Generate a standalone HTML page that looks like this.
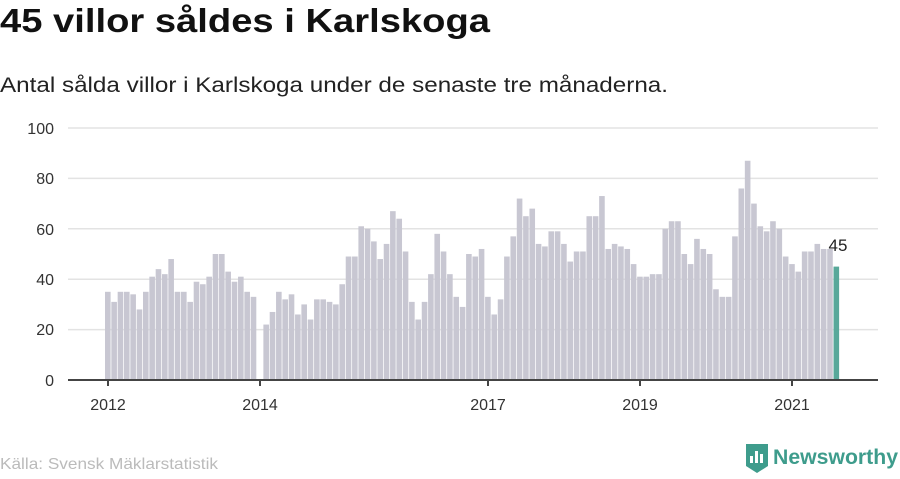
<!DOCTYPE html>
<html><head><meta charset="utf-8"><style>
body{margin:0;background:#fff;width:900px;height:474px;overflow:hidden;font-family:"Liberation Sans",sans-serif}
</style></head><body>
<svg id="s" width="900" height="474" xmlns="http://www.w3.org/2000/svg" font-family="Liberation Sans, sans-serif">
<text x="0" y="32" font-size="33" font-weight="bold" fill="#111" textLength="490" lengthAdjust="spacingAndGlyphs">45 villor såldes i Karlskoga</text>
<text x="0" y="92" font-size="21" fill="#222" textLength="668" lengthAdjust="spacingAndGlyphs">Antal sålda villor i Karlskoga under de senaste tre månaderna.</text>
<g font-size="16" fill="#333" text-anchor="end">
<text x="54" y="134">100</text><text x="54" y="184">80</text><text x="54" y="235">60</text><text x="54" y="285">40</text><text x="54" y="335">20</text><text x="54" y="386">0</text>
</g>
<g stroke="#e3e3e3" stroke-width="1.5">
<line x1="68" x2="878" y1="128" y2="128"/><line x1="68" x2="878" y1="178.4" y2="178.4"/><line x1="68" x2="878" y1="228.8" y2="228.8"/><line x1="68" x2="878" y1="279.2" y2="279.2"/><line x1="68" x2="878" y1="329.6" y2="329.6"/>
</g>
<g id="bars"></g>
<line x1="68" x2="878" y1="380" y2="380" stroke="#444" stroke-width="2"/>
<g stroke="#444" stroke-width="2">
<line x1="108" x2="108" y1="380" y2="386"/><line x1="260" x2="260" y1="380" y2="386"/><line x1="488" x2="488" y1="380" y2="386"/><line x1="640" x2="640" y1="380" y2="386"/><line x1="792" x2="792" y1="380" y2="386"/>
</g>
<g font-size="16" fill="#333" text-anchor="middle">
<text x="108" y="410">2012</text><text x="260" y="410">2014</text><text x="488" y="410">2017</text><text x="640" y="410">2019</text><text x="792" y="410">2021</text>
</g>
<text x="838" y="251" font-size="17" fill="#222" text-anchor="middle">45</text>
<text x="0" y="469" font-size="16" fill="#bbb" textLength="218" lengthAdjust="spacingAndGlyphs">Källa: Svensk Mäklarstatistik</text>
<g>
<path d="M746 444 h22 v22 l-11 7 l-11 -7 z" fill="#3e9c8c"/>
<rect x="750" y="456" width="3" height="7" fill="#fff"/><rect x="755" y="451" width="3" height="12" fill="#fff"/><rect x="760" y="454" width="3" height="9" fill="#fff"/>
<text x="773" y="464" font-size="21" font-weight="bold" fill="#3e9c8c" textLength="125" lengthAdjust="spacingAndGlyphs">Newsworthy</text>
</g>
</svg>
<script>
var v=[35,31,35,35,34,28,35,41,44,42,48,35,35,31,39,38,41,50,50,43,39,41,35,33,0,22,27,35,32,34,26,30,24,32,32,31,30,38,49,49,61,60,55,48,54,67,64,51,31,24,31,42,58,51,42,33,29,50,49,52,33,26,32,49,57,72,65,68,54,53,59,59,54,47,51,51,65,65,73,52,54,53,52,46,41,41,42,42,60,63,63,50,46,56,52,50,36,33,33,57,76,87,70,61,59,63,60,49,46,43,51,51,54,52,52,45];
var g=document.getElementById('bars'),h='';
for(var i=0;i<v.length;i++){if(!v[i])continue;var x=105+i*6.335,hh=v[i]*2.52;
h+='<rect x="'+x.toFixed(2)+'" y="'+(380-hh).toFixed(2)+'" width="5.6" height="'+hh.toFixed(2)+'" fill="'+(i==v.length-1?'#58a89a':'#c8c7d2')+'"/>';}
g.innerHTML=h;
</script>
</body></html>
